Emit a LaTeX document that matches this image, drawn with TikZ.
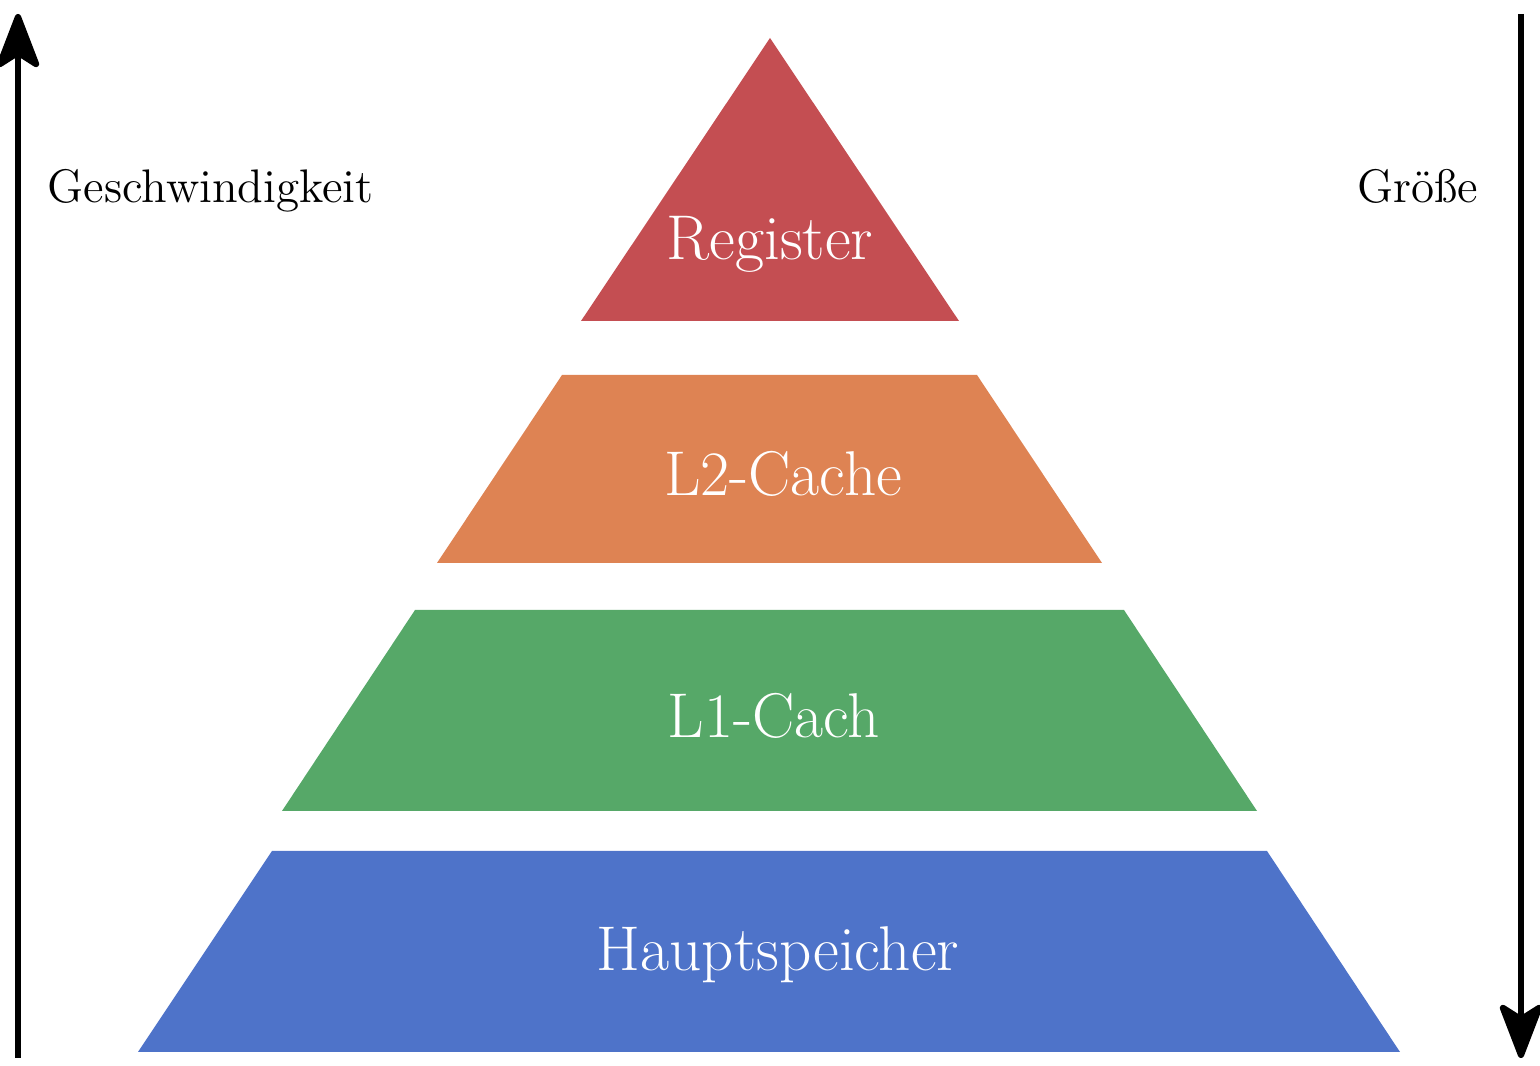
\documentclass[tikz,border=0pt]{standalone}
\usepackage{xcolor}
\usepackage{tikz}
\usetikzlibrary{positioning, arrows.meta}
\definecolor{regred}{HTML}{C44E52}
\definecolor{cacheorange}{HTML}{DE8353}
\definecolor{cachegreen}{HTML}{56A868}
\definecolor{ramblue}{HTML}{4E73C9}

\begin{document}
\begin{tikzpicture}[x=1cm, y=-1cm,
    levellabel/.style={text=white, font=\fontsize{18}{20}\selectfont, inner sep=0pt},
    sidelabel/.style={font=\fontsize{13.4}{16}\selectfont, inner sep=0pt},
    axisarrow/.style={-{Stealth[length=6.3mm, width=4.8mm, inset=1.5mm, round]}, line width=1.8pt}]
  \useasboundingbox (0,0) rectangle (15.40,10.66);
  % pyramid levels
  \fill[regred] (7.70,0.38) -- (9.59,3.21) -- (5.81,3.21) -- cycle;
  \fill[cacheorange] (5.62,3.75) -- (9.77,3.75) -- (11.02,5.63) -- (4.37,5.63) -- cycle;
  \fill[cachegreen] (4.15,6.10) -- (11.24,6.10) -- (12.57,8.11) -- (2.82,8.11) -- cycle;
  \fill[ramblue] (2.72,8.51) -- (12.67,8.51) -- (14.00,10.52) -- (1.38,10.52) -- cycle;
  \node[levellabel] (reg) at (7.70,2.44) {Register};
  \node[levellabel] (ltwo) at (7.83,4.74) {L2-Cache};
  \node[levellabel] (lone) at (7.74,7.16) {L1-Cach};
  \node[levellabel] (ram) at (7.78,9.55) {Hauptspeicher};
  % axes
  \coordinate (speedlow) at (0.18,10.58);
  \coordinate (speedhigh) at (0.18,0.14);
  \coordinate (sizesmall) at (15.21,0.14);
  \coordinate (sizelarge) at (15.21,10.58);
  \draw[axisarrow] (speedlow) -- (speedhigh);
  \draw[axisarrow] (sizesmall) -- (sizelarge);
  \node[sidelabel, anchor=base west] (speed) at (0.47,2.03) {Geschwindigkeit};
  \node[sidelabel, anchor=base east] (size) at (14.79,2.03) {Größe};
\end{tikzpicture}
\end{document}
